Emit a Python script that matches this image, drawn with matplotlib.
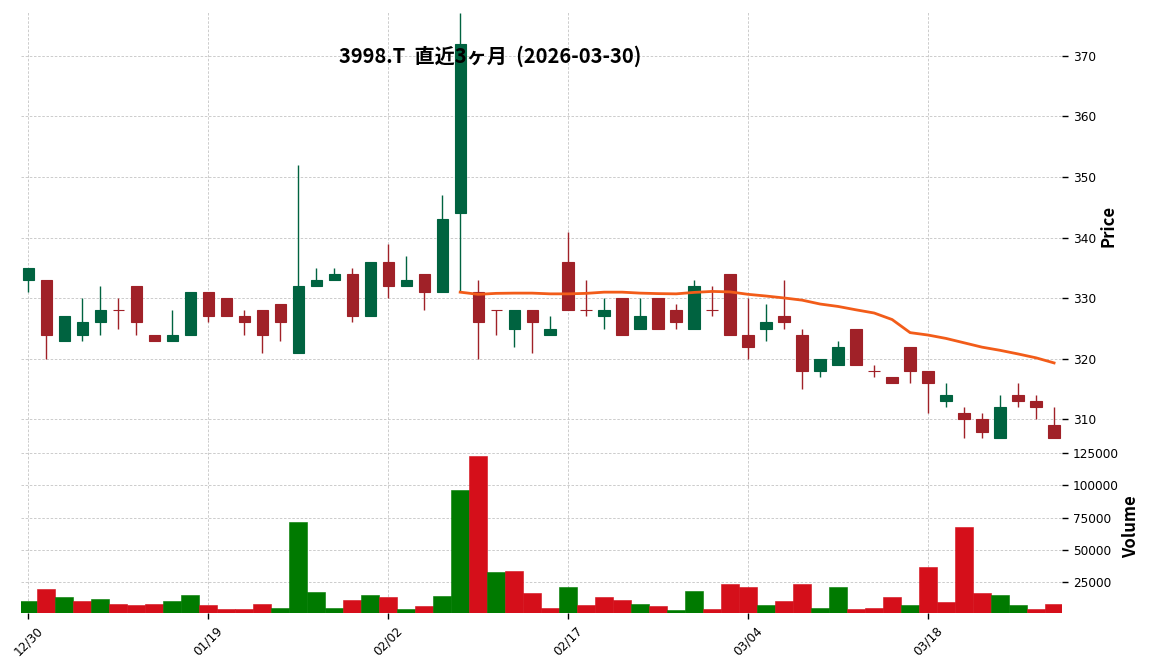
import numpy as np
import pandas as pd
import matplotlib
matplotlib.use("Agg")
import matplotlib.pyplot as plt
from matplotlib.ticker import FixedLocator, FuncFormatter

# ---- data ----
dates = ["12/30", "01/05", "01/06", "01/07", "01/08", "01/09", "01/13", "01/14", "01/15", "01/16",
         "01/19", "01/20", "01/21", "01/22", "01/23", "01/26", "01/27", "01/28", "01/29", "01/30",
         "02/02", "02/03", "02/04", "02/05", "02/06", "02/09", "02/10", "02/12", "02/13", "02/16",
         "02/17", "02/18", "02/19", "02/20", "02/24", "02/25", "02/26", "02/27", "03/02", "03/03",
         "03/04", "03/05", "03/06", "03/09", "03/10", "03/11", "03/12", "03/13", "03/16", "03/17",
         "03/18", "03/19", "03/23", "03/24", "03/25", "03/26", "03/27", "03/30"]

opens = [333, 333, 323, 324, 326, 328, 332, 324, 323, 324,
         331, 330, 327, 328, 329, 321, 332, 333, 334, 327,
         336, 332, 334, 331, 344, 331, 328, 325, 328, 324,
         336, 328, 327, 330, 325, 330, 328, 325, 328, 334,
         324, 325, 327, 324, 318, 319, 325, 318, 317, 322,
         318, 313, 311, 310, 307, 314, 313, 309]
highs = [335, 333, 327, 330, 332, 330, 332, 324, 328, 331,
         331, 330, 328, 328, 329, 352, 335, 335, 335, 336,
         339, 337, 334, 347, 377, 333, 328, 328, 328, 327,
         341, 333, 330, 330, 330, 330, 329, 333, 332, 334,
         330, 329, 333, 325, 320, 323, 325, 319, 317, 322,
         318, 316, 312, 311, 314, 316, 314, 312]
lows = [331, 320, 323, 323, 324, 325, 324, 323, 323, 324,
        326, 327, 324, 321, 323, 321, 332, 333, 326, 327,
        330, 332, 328, 331, 331, 320, 324, 322, 321, 324,
        328, 327, 325, 324, 325, 325, 325, 325, 327, 324,
        320, 323, 325, 315, 317, 319, 319, 317, 316, 316,
        311, 312, 307, 307, 307, 312, 310, 307]
closes = [335, 324, 327, 326, 328, 328, 326, 323, 324, 331,
          327, 327, 326, 324, 326, 332, 333, 334, 327, 336,
          332, 333, 331, 343, 372, 326, 328, 328, 326, 325,
          328, 328, 328, 324, 327, 325, 326, 332, 328, 324,
          322, 326, 326, 318, 320, 322, 319, 318, 316, 318,
          316, 314, 310, 308, 312, 313, 312, 307]
volumes = [9800, 19100, 12900, 10500, 12100, 8200, 7400, 8200, 9800, 15200,
           6700, 3600, 4300, 8200, 5100, 71800, 17500, 5100, 11300, 15200,
           13600, 4300, 5900, 14400, 96600, 122900, 33000, 33800, 16700, 5100,
           21400, 6700, 12900, 11300, 8200, 5900, 2800, 18300, 4300, 23700,
           21400, 7400, 10500, 23700, 5100, 21400, 4300, 5100, 12900, 6700,
           36900, 9000, 67900, 16000, 15200, 6700, 3600, 8200]

title_text = "3998.T  直近3ヶ月  (2026-03-30)"
tick_idx = [0, 10, 20, 30, 40, 50]
price_ticks = [310, 320, 330, 340, 350, 360, 370]
vol_ticks = [25000, 50000, 75000, 100000, 125000]
mav_window = 25

# ---- styling ----
UP_C = "#006340"
DN_C = "#a02128"
VUP_C = "#007a00"
VDN_C = "#d50f1a"
MA_C = "#f25c19"
GRID_C = "#c4c4c4"

o = np.array(opens, float)
h = np.array(highs, float)
l = np.array(lows, float)
c = np.array(closes, float)
v = np.array(volumes, float)
x = np.arange(len(o))

fig = plt.figure(figsize=(11.52, 6.70), dpi=100)
axp = fig.add_axes([20.7 / 1152, 1 - 440 / 670, (1062 - 20.7) / 1152, (440 - 11) / 670])
axv = fig.add_axes([20.7 / 1152, 1 - 613 / 670, (1062 - 20.7) / 1152, (613 - 440) / 670], sharex=axp)

# candles
up = c > o
ccol = np.where(up, UP_C, DN_C)
axp.vlines(x, l, h, colors=ccol, linewidth=1.0, zorder=3)
bh = np.where(np.abs(c - o) < 1e-9, 0.0001, c - o)
axp.bar(x, bh, bottom=o, width=0.63, color=ccol, edgecolor=ccol, linewidth=0.8, zorder=4)

# moving average
ma = pd.Series(c).rolling(mav_window).mean()
axp.plot(x, ma, color=MA_C, linewidth=2.0, zorder=5)

# volume colors by close vs previous close
vup = np.empty(len(c), bool)
vup[0] = o[0] < c[0]
vup[1:] = c[:-1] < c[1:]
vcol = np.where(vup, VUP_C, VDN_C)
axv.bar(x, v, width=1.0, color=vcol, edgecolor=vcol, linewidth=0.4, zorder=3)

# limits
axp.set_xlim(-0.42, len(x) - 1 + 0.44)
axp.set_ylim(306.6, 377.4)
axv.set_ylim(0.3 * v.min(), 1.1 * v.max())

for ax in (axp, axv):
    for s in ax.spines.values():
        s.set_visible(False)
    ax.grid(True, color=GRID_C, linestyle=(0, (3, 2)), linewidth=0.6, zorder=0)
    ax.set_axisbelow(True)
    ax.yaxis.tick_right()
    ax.yaxis.set_label_position("right")
    ax.tick_params(axis="y", labelsize=8.7, length=4, width=1, colors="black", pad=4)
    ax.xaxis.set_major_locator(FixedLocator(tick_idx))

axp.yaxis.set_major_locator(FixedLocator(price_ticks))
axv.yaxis.set_major_locator(FixedLocator(vol_ticks))
axv.yaxis.set_major_formatter(FuncFormatter(lambda val, pos: f"{int(val)}"))

axp.tick_params(axis="x", which="both", length=0, labelbottom=False)
axv.set_xticks(tick_idx)
axv.set_xticklabels([dates[i] for i in tick_idx], rotation=45, ha="center", fontsize=8.7)
axv.tick_params(axis="x", length=4, width=1, pad=4)

lab_font = ["Noto Sans CJK JP", "DejaVu Sans"]
axp.set_ylabel("Price", family=lab_font, fontsize=12, fontweight="bold", labelpad=2)
axv.set_ylabel("Volume", family=lab_font, fontsize=12, fontweight="bold", labelpad=2)

fig.text(490 / 1152, 1 - 56 / 670, title_text, family=lab_font, fontsize=14.5,
         fontweight="bold", ha="center", va="center")

fig.savefig("out.png", dpi=100)
